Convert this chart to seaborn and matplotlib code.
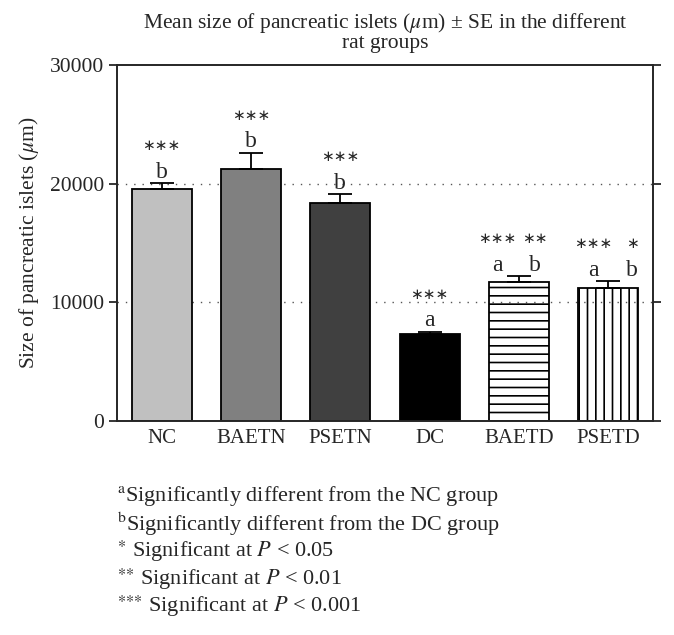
import matplotlib
matplotlib.use("Agg")
import matplotlib.pyplot as plt
import seaborn as sns
import pandas as pd

groups = ["NC", "BAETN", "PSETN", "DC", "BAETD", "PSETD"]
mean_size = [19550, 21230, 18370, 7330, 11710, 11200]
se_size = [500, 1350, 750, 170, 500, 590]
sig_letters = [["b"], ["b"], ["b"], ["a"], ["a", "b"], ["a", "b"]]
sig_stars = [["***"], ["***"], ["***"], ["***"], ["***", "**"], ["***", "*"]]
bar_colors = ["#c0c0c0", "#808080", "#404040", "#000000", "white", "white"]
bar_hatches = ["", "", "", "", "--", "||"]

footnotes = [
    r"$^{\mathrm{a}}$Significantly different from the NC group",
    r"$^{\mathrm{b}}$Significantly different from the DC group",
    r"$^{{\ast}}$ Significant at $P$ < 0.05",
    r"$^{{\ast}{\ast}}$ Significant at $P$ < 0.01",
    r"$^{{\ast}{\ast}{\ast}}$ Significant at $P$ < 0.001",
]

# horizontal pixel offsets of the two marks on bars with two groups
pair_offsets = {4: [-22, 16], 5: [-15, 24]}

sns.set_style("ticks")
plt.rcParams["font.family"] = ["Liberation Serif", "DejaVu Serif"]
plt.rcParams["mathtext.fontset"] = "stix"
plt.rcParams["hatch.linewidth"] = 1.2

df = pd.DataFrame({"group": groups, "size": mean_size})

fig = plt.figure(figsize=(6.74, 6.35), dpi=100)
ax = fig.add_axes([117 / 674, 1 - 421 / 635, 536 / 674, 356 / 635])

ax.axhline(10000, color="#555555", linestyle=(0, (1, 5)), linewidth=1, zorder=0)
ax.axhline(20000, color="#555555", linestyle=(0, (1, 5)), linewidth=1, zorder=0)

sns.barplot(data=df, x="group", y="size", hue="group", palette=bar_colors,
            width=0.67, edgecolor="black", linewidth=1.3, legend=False,
            ax=ax, zorder=2)

for patch, col, h in zip(ax.patches, bar_colors, bar_hatches):
    if h:
        patch.set_facecolor("none")
        patch.set_hatch(h)

ax.errorbar(range(len(groups)), mean_size, yerr=[[0] * len(groups), se_size],
            fmt="none", ecolor="black", elinewidth=1.3, capsize=8.3,
            capthick=1.3, zorder=3)

# significance marks above each bar
for i, (m, s) in enumerate(zip(mean_size, se_size)):
    offs = pair_offsets.get(i, [0])
    for k in range(len(sig_letters[i])):
        ax.annotate(sig_letters[i][k], (i, m + s), xytext=(offs[k] * 0.72, 4),
                    textcoords="offset points", ha="center", va="baseline",
                    fontsize=17)
        stars = "\u2217" * len(sig_stars[i][k])
        ax.annotate(stars, (i, m + s), xytext=(offs[k] * 0.72, 27),
                    textcoords="offset points", ha="center", va="center",
                    fontsize=11, family="DejaVu Sans")

ax.set_ylim(0, 30000)
ax.set_xlim(-0.5, 5.5)
ax.set_yticks([0, 10000, 20000, 30000])
ax.set_xlabel("")
ax.set_ylabel(r"Size of pancreatic islets ($\mu$m)", fontsize=15.5, labelpad=6)
ax.set_title("Mean size of pancreatic islets ($\\mu$m) \u00b1 SE in the different\nrat groups",
             fontsize=15.5, pad=12, linespacing=0.95)
ax.tick_params(axis="y", labelsize=15.5, width=1.3, length=6, right=True)
ax.tick_params(axis="x", labelsize=15, length=0, pad=6)
for sp in ax.spines.values():
    sp.set_visible(True)
    sp.set_linewidth(1.4)

for j, line in enumerate(footnotes):
    fig.text(117 / 674, 1 - (496 + 27.7 * j) / 635, line, fontsize=16,
             ha="left", va="center")

fig.savefig("out.png", dpi=100)
